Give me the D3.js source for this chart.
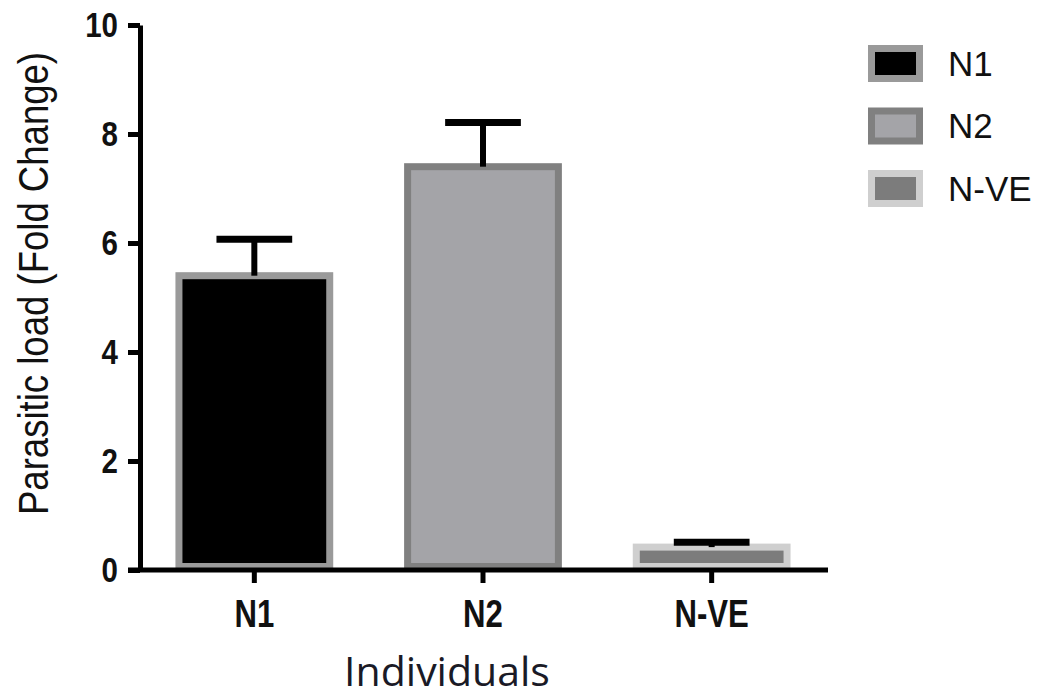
<!DOCTYPE html>
<html>
<head>
<meta charset="utf-8">
<script src="https://cdn.jsdelivr.net/npm/d3@7"></script>
<style>
	body { margin: 0; background: #fff; }
	svg { display: block; }
	.axis text { font-family: 'Liberation Sans', Arial, sans-serif; font-weight: bold; fill: #111; }
	.label--y { font-family: 'Liberation Sans', Arial, sans-serif; fill: #111; }
	.label--x { font-family: 'Open Sans', 'Noto Sans', sans-serif; fill: #1a1a26; }
	.legend text { font-family: 'Liberation Sans', Arial, sans-serif; fill: #111; }
</style>
</head>
<body>
<div class="graphic__chart"></div>
<script>
const categories = ['N1', 'N2', 'N-VE']
const means = [5.4, 7.4, 0.42]
const errors = [0.67, 0.81, 0.09]
const yTicks = [0, 2, 4, 6, 8, 10]
const fills = ['#000000', '#a4a4a8', '#7c7c7c']
const strokes = ['#9a9a9a', '#808080', '#cfcfcf']
const yTitle = 'Parasitic load (Fold Change)'
const xTitle = 'Individuals'

const WIDTH = 1041
const HEIGHT = 697
const margin = { top: 25, right: 215, bottom: 127, left: 140 }
const BAR_STROKE = 7
const AXIS_STROKE = 5
const ERR_STROKE = 6
const TICK = 12
const NARROW = 0.82 // squeeze to mimic a narrow bold face

const chart = d3.select('.graphic__chart')
const svg = chart.append('svg')
	.attr('width', WIDTH)
	.attr('height', HEIGHT)

const barData = categories.map((c, i) => ({ name: c, mean: means[i], err: errors[i], fill: fills[i], stroke: strokes[i] }))

const x = d3.scaleBand()
	.domain(categories)
	.range([margin.left, WIDTH - margin.right])
	.paddingInner(0.31)
	.paddingOuter(0.155)

const y = d3.scaleLinear()
	.domain([0, 10])
	.range([HEIGHT - margin.bottom, margin.top])

// bars
const bar = svg.append('g').attr('class', 'bars')
	.selectAll('.bar')
	.data(barData)
	.enter().append('g')
		.attr('class', 'bar')

bar.append('rect')
	.attr('x', d => x(d.name) + BAR_STROKE / 2)
	.attr('width', x.bandwidth() - BAR_STROKE)
	.attr('y', d => y(d.mean))
	.attr('height', d => y(0) - y(d.mean) - BAR_STROKE / 2)
	.attr('fill', d => d.fill)
	.attr('stroke', d => d.stroke)
	.attr('stroke-width', BAR_STROKE)

// error bars (upper only)
const capW = x.bandwidth() * 0.48
bar.append('line')
	.attr('x1', d => x(d.name) + x.bandwidth() / 2)
	.attr('x2', d => x(d.name) + x.bandwidth() / 2)
	.attr('y1', d => y(d.mean))
	.attr('y2', d => y(d.mean + d.err))
	.attr('stroke', '#000')
	.attr('stroke-width', ERR_STROKE)
bar.append('line')
	.attr('x1', d => x(d.name) + x.bandwidth() / 2 - capW / 2)
	.attr('x2', d => x(d.name) + x.bandwidth() / 2 + capW / 2)
	.attr('y1', d => y(d.mean + d.err))
	.attr('y2', d => y(d.mean + d.err))
	.attr('stroke', '#000')
	.attr('stroke-width', ERR_STROKE + 1)

// y axis
const Y_PAD = 10
const yAxis = svg.append('g')
	.attr('class', 'axis axis--y')
	.attr('transform', `translate(${margin.left},0)`)
	.call(d3.axisLeft(y).tickValues(yTicks).tickSize(TICK).tickSizeOuter(0).tickPadding(Y_PAD))
yAxis.select('.domain').attr('stroke', '#000').attr('stroke-width', AXIS_STROKE)
yAxis.selectAll('.tick line').attr('stroke', '#000').attr('stroke-width', AXIS_STROKE)
yAxis.selectAll('.tick text')
	.style('font-size', '36px')
	.attr('x', -(TICK + Y_PAD) / NARROW)
	.attr('transform', `scale(${NARROW},1)`)

// x axis
const xAxis = svg.append('g')
	.attr('class', 'axis axis--x')
	.attr('transform', `translate(0,${y(0)})`)
	.call(d3.axisBottom(x).tickSize(13).tickSizeOuter(0).tickPadding(17))
xAxis.select('.domain').remove()
xAxis.append('line')
	.attr('x1', margin.left - TICK)
	.attr('x2', x.range()[1] + 2)
	.attr('stroke', '#000')
	.attr('stroke-width', AXIS_STROKE)
xAxis.selectAll('.tick line').attr('stroke', '#000').attr('stroke-width', AXIS_STROKE)
xAxis.selectAll('.tick text')
	.style('font-size', '38px')
	.attr('transform', `scale(${NARROW},1)`)

// titles
svg.append('text')
	.attr('class', 'label--y')
	.attr('transform', `translate(48,${(y(0) + y(10)) / 2 - 14}) rotate(-90) scale(0.87,1)`)
	.attr('text-anchor', 'middle')
	.style('font-size', '42px')
	.text(yTitle)

svg.append('text')
	.attr('class', 'label--x')
	.attr('x', (x.range()[0] + x.range()[1]) / 2 - 36)
	.attr('y', HEIGHT - 11)
	.attr('text-anchor', 'middle')
	.style('font-size', '41px')
	.text(xTitle)

// legend
const legend = svg.append('g')
	.attr('class', 'legend')
	.attr('transform', 'translate(868,45)')

const item = legend.selectAll('.item')
	.data(barData)
	.enter().append('g')
		.attr('class', 'item')
		.attr('transform', (d, i) => `translate(0,${i * 62.5})`)

item.append('rect')
	.attr('x', BAR_STROKE / 2)
	.attr('y', BAR_STROKE / 2)
	.attr('width', 55 - BAR_STROKE)
	.attr('height', 37 - BAR_STROKE)
	.attr('fill', d => d.fill)
	.attr('stroke', d => d.stroke)
	.attr('stroke-width', BAR_STROKE)

item.append('text')
	.attr('x', 80)
	.attr('y', 18.5)
	.attr('dy', '0.35em')
	.style('font-size', '35px')
	.text(d => d.name)
</script>
</body>
</html>
